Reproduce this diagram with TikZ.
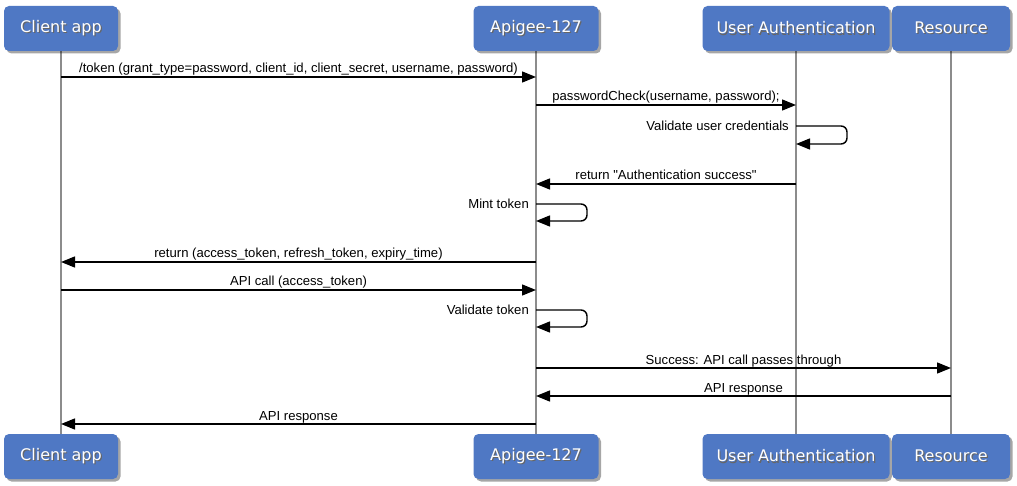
\documentclass[tikz,border=0pt]{standalone}
\usepackage{fontspec}
\setmainfont{Liberation Sans}
\newfontfamily\headfont{DejaVu Sans}
\usetikzlibrary{arrows.meta,shadows}
\definecolor{boxblue}{RGB}{79,120,196}
\definecolor{lifegray}{RGB}{140,140,140}
\newcommand\hshadow[1]{\makebox[0pt][l]{\kern1.2pt\raisebox{-1.2pt}{\textcolor{black!60}{#1}}}#1}
\begin{document}
\begin{tikzpicture}[x=1pt,y=-1pt,
  actor/.style={fill=boxblue, rounded corners=5pt, minimum height=45pt, inner sep=0pt,
    text=white, font=\headfont\fontsize{16}{19}\selectfont,
    drop shadow={shadow xshift=2.5pt,shadow yshift=-2.5pt,opacity=0.35,fill=black}},
  life/.style={draw=lifegray, line width=1.5pt},
  msg/.style={line width=1.4pt, -{Triangle[length=14pt,width=11pt]}},
  lbl/.style={font=\fontsize{13.1}{15}\selectfont, inner sep=0pt, anchor=base, yshift=4pt},
  slbl/.style={font=\fontsize{13.1}{15}\selectfont, inner sep=0pt, anchor=east, xshift=-7pt}]
\useasboundingbox (0,0) rectangle (1017,486);
% lifelines
\draw[life] (61,40) -- (61,445);
\draw[life] (536,40) -- (536,445);
\draw[life] (796,40) -- (796,445);
\draw[life] (951,40) -- (951,445);
% actors
\node[actor, minimum width=114pt] (ca) at (61,28.5) {\hshadow{Client app}};
\node[actor, minimum width=125pt] (ap) at (536,28.5) {\hshadow{Apigee-127}};
\node[actor, minimum width=187pt] (ua) at (796,28.5) {\hshadow{User Authentication}};
\node[actor, minimum width=118pt] (rs) at (951,28.5) {\hshadow{Resource}};
\node[actor, minimum width=114pt] (cab) at (61,456.5) {\hshadow{Client app}};
\node[actor, minimum width=125pt] (apb) at (536,456.5) {\hshadow{Apigee-127}};
\node[actor, minimum width=187pt] (uab) at (796,456.5) {\hshadow{User Authentication}};
\node[actor, minimum width=118pt] (rsb) at (951,456.5) {\hshadow{Resource}};
% messages
\draw[msg] (ca |- 0,77) -- (ap |- 0,77)
  node[lbl, midway] {/token (grant\_type=password, client\_id, client\_secret, username, password)};
\draw[msg] (ap |- 0,105) -- (ua |- 0,105)
  node[lbl, midway] {passwordCheck(username, password);};
\draw[msg, rounded corners=6pt] (ua |- 0,126) -- ++(51,0) -- ++(0,18) -- (ua |- 0,144);
\path (ua |- 0,126) node[slbl] {Validate user credentials};
\draw[msg] (ua |- 0,184) -- (ap |- 0,184)
  node[lbl, midway] {return \textquotedbl Authentication success\textquotedbl};
\draw[msg, rounded corners=6pt] (ap |- 0,204) -- ++(51,0) -- ++(0,17) -- (ap |- 0,221);
\path (ap |- 0,204) node[slbl] {Mint token};
\draw[msg] (ap |- 0,262) -- (ca |- 0,262)
  node[lbl, midway] {return (access\_token, refresh\_token, expiry\_time)};
\draw[msg] (ca |- 0,290) -- (ap |- 0,290)
  node[lbl, midway] {API call (access\_token)};
\draw[msg, rounded corners=6pt] (ap |- 0,310) -- ++(51,0) -- ++(0,17) -- (ap |- 0,327);
\path (ap |- 0,310) node[slbl] {Validate token};
\draw[msg] (ap |- 0,368) -- (rs |- 0,368)
  node[lbl, midway] {Success: API call passes through};
\draw[msg] (rs |- 0,396) -- (ap |- 0,396)
  node[lbl, midway] {API response};
\draw[msg] (ap |- 0,424) -- (ca |- 0,424)
  node[lbl, midway] {API response};
\end{tikzpicture}
\end{document}
